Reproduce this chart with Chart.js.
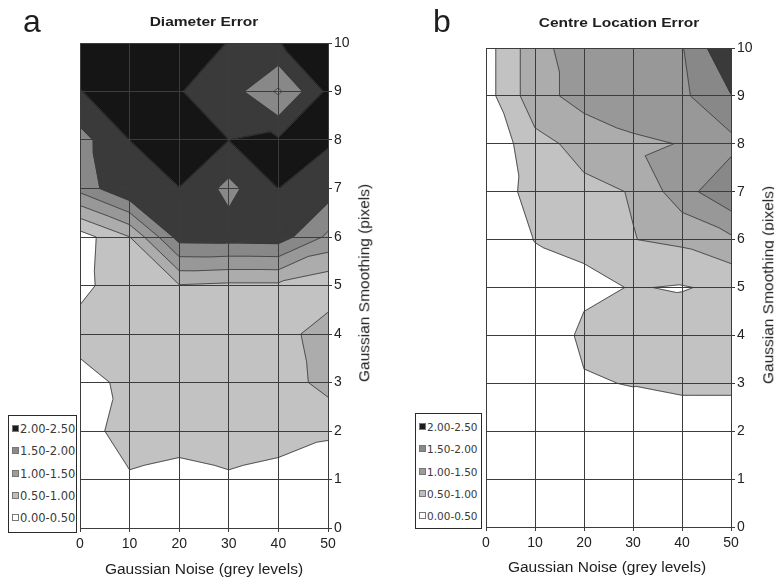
<!DOCTYPE html>
<html>
<head>
<meta charset="utf-8">
<script src="https://cdn.jsdelivr.net/npm/chart.js@4.4.1/dist/chart.umd.min.js"></script>
<style>
  body { margin: 0; background: #fff; font-family: "Liberation Sans", Arial, sans-serif; color: #1e1e1e; }
  #wrap { position: relative; width: 774px; height: 579px; overflow: hidden; }
  canvas { position: absolute; top: 0; }
  .txt { position: absolute; white-space: nowrap; line-height: 1; }
  .letter { font-size: 32px; }
  .title { font-size: 13.5px; font-weight: bold; transform: translateX(-50%) scaleX(1.15); }
  .xtitle { font-size: 15.5px; transform: translateX(-50%); }
  .ytitle { font-size: 15.5px; transform: translate(-50%, -50%) rotate(-90deg); }
  .legend { position: absolute; border: 1.5px solid #2a2a2a; box-sizing: border-box; background: #fff;
            font-family: "DejaVu Sans", sans-serif; color: #3a3a3a; padding-top: 2px; }
  .legend div { line-height: 22.3px; height: 22.3px; white-space: nowrap; }
  .legend span.sw { display: inline-block; width: 5px; height: 5px; border: 1px solid #777; margin: 0 1px 0 3px; vertical-align: 1px; }
</style>
</head>
<body>
<div id="wrap">
  <canvas id="chartA" width="387" height="579" style="left:0"></canvas>
  <canvas id="chartB" width="387" height="579" style="left:387px"></canvas>

  <div class="txt letter" style="left:23px; top:5px">a</div>
  <div class="txt letter" style="left:433px; top:5px">b</div>
  <div class="txt title" style="left:204px; top:15px">Diameter Error</div>
  <div class="txt title" style="left:619px; top:16px">Centre Location Error</div>
  <div class="txt xtitle" style="left:204px; top:561px">Gaussian Noise (grey levels)</div>
  <div class="txt xtitle" style="left:607px; top:559px">Gaussian Noise (grey levels)</div>
  <div class="txt ytitle" style="left:364px; top:283px">Gaussian Smoothing (pixels)</div>
  <div class="txt ytitle" style="left:768px; top:285px">Gaussian Smoothing (pixels)</div>

  <div class="legend" id="legendA" style="left:8px; top:415px; width:69px; height:118px; font-size:11.5px"></div>
  <div class="legend" id="legendB" style="left:415px; top:413px; width:67px; height:116px; font-size:10.5px"></div>
</div>

<script>
// grid of the surface: columns = noise levels, rows = smoothing (0 at the bottom)
const noiseLevels = [0, 10, 20, 30, 40, 50];
const smoothingLevels = [0, 1, 2, 3, 4, 5, 6, 7, 8, 9, 10];

const diameterError = [
  [0.20, 0.25, 0.25, 0.25, 0.25, 0.30],
  [0.50, 0.40, 0.30, 0.40, 0.30, 0.25],
  [0.10, 0.90, 0.74, 0.90, 0.74, 0.56],
  [0.20, 0.70, 0.75, 0.75, 0.71, 1.19],
  [0.80, 0.80, 0.80, 0.80, 0.75, 1.30],
  [0.30, 0.95, 0.97, 0.90, 0.90, 0.63],
  [0.26, 0.99, 2.70, 2.72, 2.75, 1.90],
  [2.17, 2.99, 2.99, 2.35, 3.00, 2.75],
  [2.32, 3.00, 3.30, 3.00, 3.05, 3.05],
  [2.98, 3.30, 3.02, 2.75, 1.92, 3.10],
  [3.30, 3.30, 3.30, 2.98, 2.98, 3.30]
];

const centreError = [
  [0.05, 0.05, 0.08, 0.10, 0.10, 0.10],
  [0.05, 0.08, 0.10, 0.12, 0.12, 0.12],
  [0.05, 0.08, 0.15, 0.25, 0.20, 0.20],
  [0.05, 0.10, 0.457, 0.52, 0.60, 0.60],
  [0.05, 0.10, 0.60, 0.75, 0.80, 0.80],
  [0.05, 0.20, 0.40, 0.52, 0.47, 0.60],
  [0.05, 0.52, 0.60, 0.99, 1.10, 1.40],
  [0.10, 0.72, 0.90, 1.02, 1.80, 2.40],
  [0.05, 0.85, 1.15, 1.40, 1.52, 1.85],
  [0.30, 1.30, 1.70, 1.85, 1.90, 2.48],
  [0.30, 1.30, 1.83, 1.90, 1.98, 2.99]
];

const contourLevels = [0.5, 1.0, 1.5, 2.0, 2.5, 3.0];
const legendLabels = ["2.00-2.50", "1.50-2.00", "1.00-1.50", "0.50-1.00", "0.00-0.50"];

const bandColours = ["#ffffff", "#c2c2c2", "#acacac", "#989898", "#888888", "#3a3a3a", "#151515"];
const legendSwatches = ["#1c1c1c", "#8a8a8a", "#9c9c9c", "#bdbdbd", "#ffffff"];
const fontFamily = "'Liberation Sans', Arial, sans-serif";

function lerp(a, b, level) {
  const t = b.v === a.v ? 0 : (level - a.v) / (b.v - a.v);
  return { x: a.x + t * (b.x - a.x), y: a.y + t * (b.y - a.y), v: level };
}

function clipPoly(poly, level, keepAbove) {
  const out = [];
  const inside = p => keepAbove ? p.v >= level : p.v <= level;
  for (let i = 0; i < poly.length; i++) {
    const a = poly[i], b = poly[(i + 1) % poly.length];
    const ia = inside(a), ib = inside(b);
    if (ia) out.push(a);
    if (ia !== ib) out.push(lerp(a, b, level));
  }
  return out;
}

function polyArea(poly) {
  let s = 0;
  for (let i = 0; i < poly.length; i++) {
    const a = poly[i], b = poly[(i + 1) % poly.length];
    s += a.x * b.y - b.x * a.y;
  }
  return Math.abs(s / 2);
}

// split each grid cell in two triangles, keeping the odd corner out of the diagonal
function triangulate(values) {
  const tris = [];
  for (let j = 0; j < smoothingLevels.length - 1; j++) {
    for (let i = 0; i < noiseLevels.length - 1; i++) {
      const p00 = { x: noiseLevels[i], y: smoothingLevels[j], v: values[j][i] };
      const p10 = { x: noiseLevels[i + 1], y: smoothingLevels[j], v: values[j][i + 1] };
      const p01 = { x: noiseLevels[i], y: smoothingLevels[j + 1], v: values[j + 1][i] };
      const p11 = { x: noiseLevels[i + 1], y: smoothingLevels[j + 1], v: values[j + 1][i + 1] };
      const mean = (p00.v + p10.v + p01.v + p11.v) / 4;
      const dev = [p00, p10, p01, p11].map(p => Math.abs(p.v - mean));
      const odd = dev.indexOf(Math.max(...dev));
      if (odd === 0 || odd === 3) {
        tris.push([p00, p10, p01], [p11, p01, p10]);
      } else {
        tris.push([p00, p10, p11], [p00, p11, p01]);
      }
    }
  }
  return tris;
}

const contourPlugin = {
  id: "contourBands",
  beforeDatasetsDraw(chart, args, opts) {
    const { ctx, chartArea, scales } = chart;
    const px = p => scales.x.getPixelForValue(p.x);
    const py = p => scales.y.getPixelForValue(p.y);
    const tris = triangulate(opts.values);
    ctx.save();
    ctx.beginPath();
    ctx.rect(chartArea.left, chartArea.top, chartArea.width, chartArea.height);
    ctx.clip();

    tris.forEach(tri => {
      for (let k = 0; k <= contourLevels.length; k++) {
        let poly = tri;
        if (k > 0) poly = clipPoly(poly, contourLevels[k - 1], true);
        if (k < contourLevels.length) poly = clipPoly(poly, contourLevels[k], false);
        if (poly.length < 3 || polyArea(poly) < 1e-4) continue;
        ctx.beginPath();
        poly.forEach((p, i) => i ? ctx.lineTo(px(p), py(p)) : ctx.moveTo(px(p), py(p)));
        ctx.closePath();
        ctx.fillStyle = bandColours[k];
        ctx.strokeStyle = bandColours[k];
        ctx.lineWidth = 1.2;
        ctx.lineJoin = "round";
        ctx.fill();
        ctx.stroke();
      }
    });

    ctx.strokeStyle = "#3a3a3a";
    ctx.lineWidth = 0.8;
    tris.forEach(tri => contourLevels.forEach(level => {
      const pts = [];
      for (let i = 0; i < 3; i++) {
        const a = tri[i], b = tri[(i + 1) % 3];
        if ((a.v < level) !== (b.v < level)) pts.push(lerp(a, b, level));
      }
      if (pts.length !== 2) return;
      ctx.beginPath();
      ctx.moveTo(px(pts[0]), py(pts[0]));
      ctx.lineTo(px(pts[1]), py(pts[1]));
      ctx.stroke();
    }));
    ctx.restore();
  }
};

function buildLegend(id) {
  document.getElementById(id).innerHTML = legendLabels
    .map((label, i) => `<div><span class="sw" style="background:${legendSwatches[i]}"></span>${label}</div>`)
    .join("");
}

function makePanel(p) {
  const tickFont = { family: fontFamily, size: 14 };
  new Chart(document.getElementById(p.canvas), {
    type: "scatter",
    data: { datasets: [] },
    plugins: [contourPlugin],
    options: {
      responsive: false,
      animation: false,
      devicePixelRatio: 1,
      layout: { padding: { left: p.left, top: p.top, right: 0, bottom: 0 } },
      plugins: {
        legend: { display: false },
        tooltip: { enabled: false },
        contourBands: { values: p.values }
      },
      scales: {
        x: {
          type: "linear",
          min: noiseLevels[0],
          max: noiseLevels[noiseLevels.length - 1],
          ticks: { stepSize: 10, padding: 4, color: "#222", font: tickFont },
          grid: { color: "#3c3c3c", lineWidth: 1, tickLength: 4, z: 1 },
          border: { color: "#3c3c3c", z: 1 },
          afterFit: s => { s.height = p.bottomH; }
        },
        y: {
          type: "linear",
          position: "right",
          min: smoothingLevels[0],
          max: smoothingLevels[smoothingLevels.length - 1],
          ticks: { stepSize: 1, padding: 2, color: "#222", font: tickFont },
          grid: { color: "#3c3c3c", lineWidth: 1, tickLength: 4, z: 1 },
          border: { color: "#3c3c3c", z: 1 },
          afterFit: s => { s.width = p.rightW; }
        }
      }
    }
  });
}

const panels = [
  { canvas: "chartA", values: diameterError, left: 80, top: 43, rightW: 59, bottomH: 51 },
  { canvas: "chartB", values: centreError, left: 99, top: 48, rightW: 43, bottomH: 52 }
];

buildLegend("legendA");
buildLegend("legendB");
panels.forEach(makePanel);
</script>
</body>
</html>
